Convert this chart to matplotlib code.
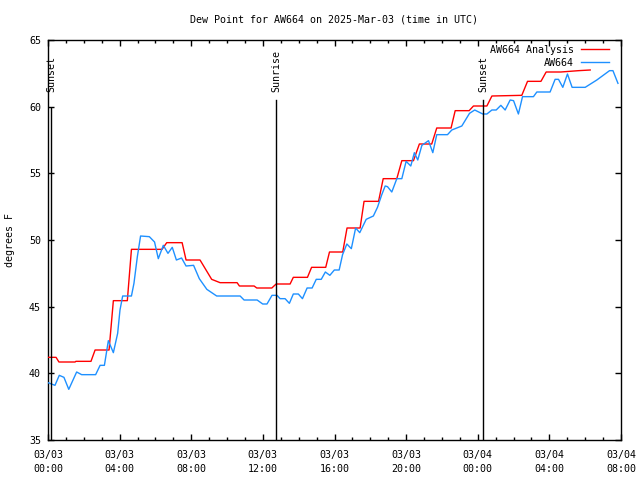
import matplotlib
matplotlib.use("Agg")
import matplotlib.pyplot as plt
from matplotlib.ticker import MultipleLocator, FixedLocator

# ---- data (hours since 2025-03-03 00:00 UTC) ----
obs_hours = [0.00, 0.39, 0.63, 0.89, 1.16, 1.60, 1.88, 2.66, 2.91, 3.15,
             3.37, 3.65, 3.89, 4.02, 4.17, 4.66, 4.80, 4.99, 5.17, 5.66,
             5.95, 6.16, 6.44, 6.70, 6.94, 7.17, 7.46, 7.71, 8.13, 8.45,
             8.87, 9.42, 10.73, 10.95, 11.68, 11.99, 12.23, 12.51, 12.79, 12.96,
             13.24, 13.48, 13.70, 13.98, 14.21, 14.47, 14.75, 14.98, 15.26, 15.49,
             15.74, 15.99, 16.26, 16.45, 16.69, 16.94, 17.18, 17.41, 17.77, 18.17,
             18.40, 18.64, 18.83, 18.96, 19.20, 19.48, 19.76, 20.00, 20.26, 20.46,
             20.65, 20.88, 21.25, 21.49, 21.71, 22.31, 22.55, 23.11, 23.54, 23.83,
             24.28, 24.51, 24.79, 25.03, 25.29, 25.53, 25.81, 26.00, 26.27, 26.50,
             27.11, 27.30, 28.04, 28.32, 28.51, 28.75, 29.01, 29.27, 30.00, 30.65,
             31.36, 31.55, 31.83]
obs_values = [39.3, 39.1, 39.85, 39.7, 38.8, 40.1, 39.9, 39.9, 40.6, 40.6,
              42.45, 41.55, 43.0, 44.75, 45.8, 45.8, 46.75, 48.75, 50.3, 50.25,
              49.85, 48.6, 49.6, 49.0, 49.45, 48.5, 48.65, 48.05, 48.1, 47.1,
              46.3, 45.8, 45.8, 45.5, 45.5, 45.2, 45.2, 45.85, 45.85, 45.6,
              45.6, 45.25, 45.95, 45.95, 45.6, 46.4, 46.4, 47.05, 47.05, 47.6,
              47.35, 47.75, 47.75, 48.9, 49.7, 49.35, 50.9, 50.55, 51.55, 51.8,
              52.45, 53.4, 54.05, 54.0, 53.6, 54.6, 54.6, 55.9, 55.55, 56.55,
              56.0, 57.1, 57.45, 56.55, 57.9, 57.9, 58.25, 58.55, 59.5, 59.75,
              59.45, 59.45, 59.75, 59.75, 60.1, 59.75, 60.5, 60.45, 59.45, 60.75,
              60.75, 61.1, 61.1, 62.05, 62.05, 61.45, 62.45, 61.45, 61.45, 62.0,
              62.7, 62.7, 61.75]

ana_hours = [0.00, 0.45, 0.61, 1.51, 1.56, 2.40, 2.63, 3.41, 3.65, 4.43,
             4.66, 6.37, 6.63, 7.49, 7.71, 8.49, 9.14, 9.61, 10.56, 10.69,
             11.51, 11.66, 12.50, 12.74, 13.52, 13.70, 14.49, 14.72, 15.51, 15.72,
             16.46, 16.70, 17.43, 17.65, 18.46, 18.72, 19.48, 19.76, 20.41, 20.74,
             21.43, 21.71, 22.51, 22.74, 23.52, 23.76, 24.51, 24.79, 26.46, 26.78,
             27.53, 27.82, 28.64, 29.63, 30.28]
ana_values = [41.2, 41.2, 40.85, 40.85, 40.9, 40.9, 41.75, 41.75, 45.45, 45.45,
              49.3, 49.3, 49.8, 49.8, 48.5, 48.5, 47.05, 46.8, 46.8, 46.55,
              46.55, 46.4, 46.4, 46.7, 46.7, 47.2, 47.2, 47.95, 47.95, 49.1,
              49.1, 50.9, 50.9, 52.9, 52.9, 54.6, 54.6, 55.95, 55.95, 57.2,
              57.2, 58.4, 58.4, 59.7, 59.7, 60.05, 60.05, 60.8, 60.85, 61.9,
              61.9, 62.6, 62.6, 62.7, 62.75]

event_hours = [0.17, 12.74, 24.30]
event_labels = ["Sunset", "Sunrise", "Sunset"]

xtick_hours = [0, 4, 8, 12, 16, 20, 24, 28, 32]
xtick_labels = ["03/03\n00:00", "03/03\n04:00", "03/03\n08:00", "03/03\n12:00",
                "03/03\n16:00", "03/03\n20:00", "03/04\n00:00", "03/04\n04:00",
                "03/04\n08:00"]

title = "Dew Point for AW664 on 2025-Mar-03 (time in UTC)"

# ---- plot ----
FONT = "DejaVu Sans Mono"
FS = 7.2
plt.rcParams["font.family"] = FONT
plt.rcParams["font.size"] = FS

fig = plt.figure(figsize=(6.4, 4.8), dpi=100)
ax = fig.add_axes([48/640, 40/480, 573/640, 400/480])

ax.plot(ana_hours, ana_values, color="#ff0000", lw=1.0, label="AW664 Analysis", zorder=3)
ax.plot(obs_hours, obs_values, color="#1e90ff", lw=1.0, label="AW664", zorder=3)

ymax_frac = [0.83, 0.85, 0.85]
for h, lab, yf in zip(event_hours, event_labels, ymax_frac):
    ax.axvline(h, ymin=0, ymax=yf, color="black", lw=1.0, zorder=4)
    ax.text(h, 61.1, lab, rotation=90, ha="center", va="bottom", fontsize=FS)

ax.set_xlim(0, 32)
ax.set_ylim(35, 65)
ax.xaxis.set_major_locator(FixedLocator(xtick_hours))
ax.set_xticklabels(xtick_labels, linespacing=1.5)
ax.xaxis.set_minor_locator(MultipleLocator(1))
ax.yaxis.set_major_locator(MultipleLocator(5))
ax.tick_params(which="both", direction="in", top=True, right=True, width=1.0)
ax.tick_params(which="major", length=4)
ax.tick_params(which="minor", length=2.5)
ax.tick_params(axis="x", which="major", pad=7)
ax.tick_params(axis="y", which="major", pad=5)
for s in ax.spines.values():
    s.set_linewidth(1.0)

ax.set_title(title, fontsize=FS, pad=12.5)
fig.text(10/640, 0.5, "degrees F", rotation=90, ha="center", va="center", fontsize=FS)

ax.legend(loc="upper right", bbox_to_anchor=((609-48)/573, (440-45)/400),
          frameon=False, markerfirst=False, handlelength=2.8, handletextpad=0.7,
          borderaxespad=0, borderpad=0, labelspacing=0.3, fontsize=FS)

fig.savefig("out.png", dpi=100)
